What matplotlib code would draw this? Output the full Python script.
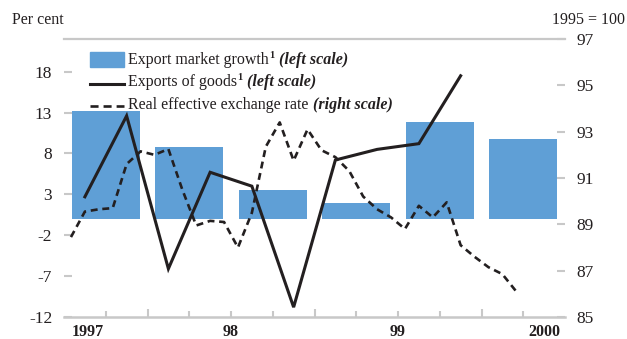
import matplotlib
matplotlib.use('Agg')
import matplotlib.pyplot as plt
import matplotlib.transforms as mtransforms
from matplotlib.patches import Rectangle
from matplotlib.lines import Line2D

plt.rcParams['font.family'] = ['Liberation Serif', 'DejaVu Serif']
plt.rcParams['lines.scale_dashes'] = False

# ---------------- data ----------------
half_years = ['1997H1', '1997H2', '1998H1', '1998H2', '1999H1', '1999H2']
export_market_growth = [13.2, 8.8, 3.5, 2.0, 11.9, 9.8]

quarters = ['1997Q1', '1997Q2', '1997Q3', '1997Q4', '1998Q1', '1998Q2',
            '1998Q3', '1998Q4', '1999Q1', '1999Q2']
exports_of_goods = [2.7, 12.6, -6.1, 5.7, 4.0, -10.8, 7.2, 8.5, 9.2, 17.5]

# monthly, Jan 1997 - Sep 1999
reer = [88.45, 89.55, 89.65, 89.7, 91.6, 92.15, 92.0, 92.25, 90.5, 88.95,
        89.15, 89.1, 88.0, 89.5, 92.35, 93.4, 91.75, 93.1, 92.2, 91.9,
        91.3, 90.2, 89.65, 89.3, 88.8, 89.8, 89.3, 89.95, 88.1, 87.6,
        87.15, 86.85, 86.1]

left_ticks = [18, 13, 8, 3, -2, -7, -12]
right_ticks = [97, 95, 93, 91, 89, 87, 85]
year_labels = ['1997', '98', '99', '2000']
year_label_pos = [1997.14, 1998.0, 1999.0, 1999.875]

# ---------------- style ----------------
BAR = '#5f9fd6'
INK = '#231f20'
GRID = '#c8c8c8'
W, H = 627, 339

fig = plt.figure(figsize=(W / 100, H / 100), dpi=100)
ax = fig.add_axes([64 / W, 1 - 317 / H, 501 / W, 278 / H])
ax2 = ax.twinx()

x_half = [1997 + 0.25 + 0.5 * i for i in range(len(half_years))]
x_q = [1997 + 0.125 + 0.25 * i for i in range(len(quarters))]
x_m = [1997 + (i + 0.5) / 12 for i in range(len(reer))]

ax.bar(x_half, export_market_growth, width=0.405, color=BAR, zorder=1)
ax.plot(x_q, exports_of_goods, color=INK, lw=2.2, zorder=3, solid_joinstyle='miter')
ax2.plot(x_m, reer, color=INK, lw=1.9, dashes=(5.0, 3.4), zorder=3)

ax.set_xlim(1997, 2000)
ax.set_ylim(-12, 22)
ax2.set_ylim(85, 97)

for s in ['left', 'right']:
    ax.spines[s].set_visible(False)
for s in ax2.spines.values():
    s.set_visible(False)
ax.spines['top'].set_color(GRID)
ax.spines['top'].set_linewidth(1.6)
ax.spines['bottom'].set_color(GRID)
ax.spines['bottom'].set_linewidth(1.8)

ax.set_yticks(left_ticks)
ax.set_yticklabels([str(v) for v in left_ticks])
ax2.set_yticks(right_ticks)
ax2.set_yticklabels([str(v) for v in right_ticks])
ax.tick_params(axis='y', direction='in', length=5.5, width=1.5, color=GRID,
               pad=8.5, labelsize=12.5, labelcolor=INK)
ax2.tick_params(axis='y', direction='in', length=5.5, width=1.5, color=GRID,
                pad=8.0, labelsize=12.5, labelcolor=INK)

ax.set_xticks([1997.5, 1998.5, 1999.5])
ax.set_xticks([1997.25, 1997.75, 1998.0, 1998.25, 1998.75, 1999.0,
               1999.25, 1999.75], minor=True)
ax.tick_params(axis='x', which='major', direction='in', length=5.5, width=1.5,
               color=GRID, labelbottom=False)
ax.tick_params(axis='x', which='minor', direction='in', length=4.0, width=1.5,
               color=GRID, labelbottom=False)

year_tr = mtransforms.blended_transform_factory(ax.transData, fig.transFigure)
for lab, xp in zip(year_labels, year_label_pos):
    ax.text(xp, 1 - 335.5 / H, lab, transform=year_tr, ha='center',
            va='baseline', fontsize=11.5, fontweight='bold', color=INK)

fig.text(12 / W, 1 - 24 / H, 'Per cent', fontsize=11.5, va='baseline', color=INK)
fig.text(625.5 / W, 1 - 24 / H, '1995 = 100', fontsize=11.5, va='baseline',
         ha='right', color=INK)

# ---------------- legend ----------------
fig.add_artist(Rectangle((90 / W, 1 - 67 / H), 34 / W, 15 / H,
                         transform=fig.transFigure, color=BAR))
fig.add_artist(Line2D([90 / W, 124 / W], [1 - 84 / H] * 2,
                      transform=fig.transFigure, lw=2.2, color=INK))
fig.add_artist(Line2D([90 / W, 124 / W], [1 - 106 / H] * 2,
                      transform=fig.transFigure, lw=1.9, color=INK,
                      dashes=(5.8, 3.6)))

rows = [(64.5, 'Export market growth', '1', '(left scale)'),
        (86.5, 'Exports of goods', '1', '(left scale)'),
        (109.0, 'Real effective exchange rate', None, '(right scale)')]
for ypx, main, sup, ital in rows:
    base = 1 - ypx / H
    t = fig.text(128 / W, base, main, fontsize=11.5, va='baseline', color=INK)
    last = t
    if sup:
        last = ax2.annotate(sup, xy=(1, base), xycoords=(t, 'figure fraction'),
                            xytext=(0.3, 4.6), textcoords='offset points',
                            fontsize=7.5, fontweight='bold', va='baseline',
                            color=INK, annotation_clip=False)
    ax2.annotate(ital, xy=(1, base), xycoords=(last, 'figure fraction'),
                 xytext=(3.0, 0), textcoords='offset points', fontsize=11.5,
                 fontstyle='italic', fontweight='bold', va='baseline',
                 color=INK, annotation_clip=False)

fig.savefig('out.png', dpi=100)
